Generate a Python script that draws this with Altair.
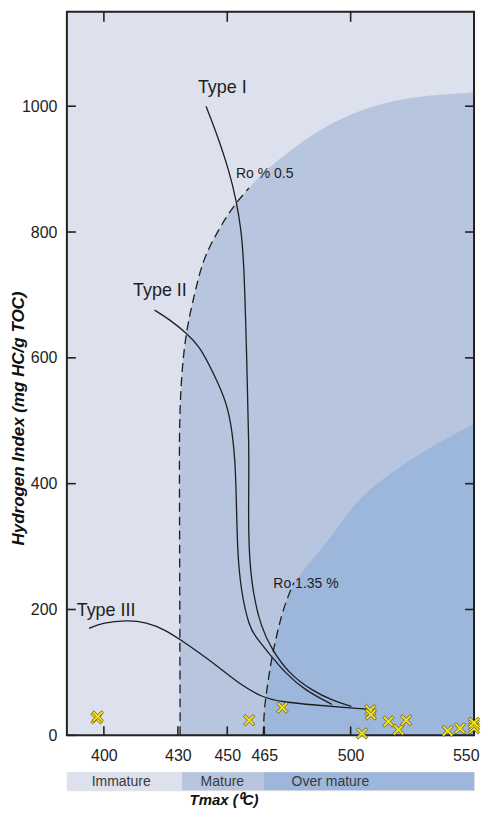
import altair as alt
import pandas as pd

FONT = "Liberation Sans"
LIGHT = "#dde1ed"
MATURE = "#b7c5df"
OVER = "#9cb7db"
INK = "#1e1e1e"

# ---------------- data ----------------
x_domain = [385, 550]
y_domain = [0, 1150]

x_labels = [400, 430, 450, 465, 500, 550]
bottom_ticks = [400, 430, 450, 465, 500]
top_ticks = [400, 450, 500]
y_labels = [0, 200, 400, 600, 800, 1000]
right_ticks = [200, 400, 600, 800, 1000]

# Ro 0.5 % boundary (dashed part = first points, then boundary of the mature field)
ro05_x = [430.9, 430.6, 430.6, 431.3, 433.3, 436.7, 440.0, 444.7, 449.4, 454.1, 458.8, 464.0, 470.1, 483.0, 497.2, 511.0, 524.2, 537.0, 550.0]
ro05_y = [0, 436, 489, 569, 643, 701, 754, 791, 823, 849, 870, 892, 913, 952, 984, 1003, 1014, 1019, 1022]
ro05_dashed_n = 11

# Ro 1.35 % boundary
ro135_x = [464.6, 464.9, 466.2, 468.0, 471.4, 473.9, 477.0, 481.7, 491.1, 497.9, 503.9, 517.4, 532.2, 550.0]
ro135_y = [0, 40, 77, 124, 183, 214, 243, 267, 310, 347, 379, 421, 458, 495]
ro135_dashed_n = 7

type1_x = [441.4, 445.4, 450.8, 453.7, 455.5, 456.8, 457.9, 458.9, 458.6, 458.7, 460.2, 463.6, 468.3, 475.0, 484.4, 492.3, 500.3]
type1_y = [1000, 960, 897, 849, 807, 754, 595, 452, 373, 294, 230, 172, 135, 98, 71, 56, 46]

type2_x = [420.5, 426.6, 433.3, 438.7, 444.0, 450.1, 452.1, 453.2, 453.7, 454.1, 455.5, 458.9, 461.6, 466.9, 473.7, 481.7, 492.5]
type2_y = [676, 661, 640, 619, 579, 527, 479, 437, 373, 294, 230, 172, 156, 130, 98, 71, 49]

type3_x = [394.0, 399.6, 409.1, 417.2, 425.2, 431.3, 437.3, 446.7, 454.8, 464.2, 472.3, 485.8, 499.2, 508.0]
type3_y = [170, 179, 183, 180, 167, 151, 135, 108, 82, 60, 53, 48, 44, 41]

samples_x = [397.0, 397.5, 458.9, 472.3, 508.0, 508.2, 504.6, 515.3, 519.4, 522.5, 539.3, 544.3, 550.0, 550.0, 550.0]
samples_y = [27, 30, 24, 44, 40, 33, 3, 22, 9, 24, 7, 11, 11, 16, 20]

curve_labels = ["Type I", "Type II", "Type III"]
curve_label_x = [448.0, 422.7, 400.9]
curve_label_y = [1029, 706, 197]

ro_labels = ["Ro % 0.5", "Ro 1.35 %"]
ro_label_x = [465.2, 481.9]
ro_label_y = [892, 241]

stage_names = ["Immature", "Mature", "Over mature"]
stage_start = [385, 431.6, 464.6]
stage_end = [431.6, 464.6, 550]
stage_text_x = [407.0, 448.0, 491.8]
stage_colors = [LIGHT, MATURE, OVER]

# ---------------- layout ----------------
W, H = 408, 725

xs = alt.Scale(domain=x_domain, nice=False, zero=False)
ys = alt.Scale(domain=y_domain, nice=False, zero=False)

xaxis = alt.Axis(values=x_labels, ticks=False, domain=False, grid=False,
                 labelFont=FONT, labelFontSize=16, labelColor=INK, labelPadding=12,
                 labelFlush=4, labelFlushOffset=5, labelOverlap=False, format="d", title="")
yaxis = alt.Axis(values=y_labels, ticks=False, domain=False, grid=False,
                 labelFont=FONT, labelFontSize=16, labelColor=INK, labelPadding=10,
                 labelFlush=False, labelOverlap=False, format="d",
                 title="Hydrogen Index (mg HC/g TOC)", titleFont=FONT, titleFontSize=17,
                 titleFontStyle="italic", titleFontWeight="bold", titleColor="#111",
                 titleX=-48, titleY=407, titleBaseline="middle", titleAlign="center")

X = lambda f: alt.X(f, type="quantitative", scale=xs, axis=xaxis)
Y = lambda f: alt.Y(f, type="quantitative", scale=ys, axis=yaxis)


def curve_df(xv, yv):
    return pd.DataFrame({"x": xv, "y": yv, "o": list(range(len(xv)))})


ro05 = curve_df(ro05_x, ro05_y).assign(xr=x_domain[1])
ro135 = curve_df(ro135_x, ro135_y).assign(xr=x_domain[1])

one = pd.DataFrame({"a": [0]})

bg = alt.Chart(one).mark_rect(fill=LIGHT).encode(
    x=alt.value(0), x2=alt.value(W), y=alt.value(0), y2=alt.value(H))

mature_area = alt.Chart(ro05).mark_area(orient="horizontal", interpolate="basis", color=MATURE).encode(
    y=Y("y"), x=X("x"), x2="xr:Q")
over_area = alt.Chart(ro135).mark_area(orient="horizontal", interpolate="basis", color=OVER).encode(
    y=Y("y"), x=X("x"), x2="xr:Q")


def line_layer(df, dashed=False):
    kw = dict(color=INK, strokeWidth=1.3, interpolate="basis")
    if dashed:
        kw["strokeDash"] = [9, 5]
    return alt.Chart(df).mark_line(**kw).encode(x=X("x"), y=Y("y"), order="o:Q")


ro05_line = line_layer(ro05.iloc[:ro05_dashed_n], dashed=True)
ro135_line = line_layer(ro135.iloc[:ro135_dashed_n], dashed=True)
t1 = line_layer(curve_df(type1_x, type1_y))
t2 = line_layer(curve_df(type2_x, type2_y))
t3 = line_layer(curve_df(type3_x, type3_y))

frame = alt.Chart(one).mark_rect(fillOpacity=0, stroke="#222", strokeWidth=2).encode(
    x=alt.value(0), x2=alt.value(W), y=alt.value(0), y2=alt.value(H))

tick_kw = dict(color="#222", strokeWidth=1.6)
bt = alt.Chart(pd.DataFrame({"v": bottom_ticks})).mark_rule(**tick_kw).encode(
    x=X("v"), y=alt.value(H), y2=alt.value(H - 9))
tt = alt.Chart(pd.DataFrame({"v": top_ticks})).mark_rule(**tick_kw).encode(
    x=X("v"), y=alt.value(0), y2=alt.value(10))
lt = alt.Chart(pd.DataFrame({"v": y_labels})).mark_rule(**tick_kw).encode(
    y=Y("v"), x=alt.value(0), x2=alt.value(9))
rt = alt.Chart(pd.DataFrame({"v": right_ticks})).mark_rule(**tick_kw).encode(
    y=Y("v"), x=alt.value(W), x2=alt.value(W - 9))

type_text = alt.Chart(pd.DataFrame({"x": curve_label_x, "y": curve_label_y, "t": curve_labels})).mark_text(
    font=FONT, fontSize=18, color=INK, align="center", baseline="middle").encode(
    x=X("x"), y=Y("y"), text="t:N")
ro_text = alt.Chart(pd.DataFrame({"x": ro_label_x, "y": ro_label_y, "t": ro_labels})).mark_text(
    font=FONT, fontSize=14, color=INK, align="center", baseline="middle").encode(
    x=X("x"), y=Y("y"), text="t:N")

xshape = "M-1,-0.68L-0.68,-1L0,-0.32L0.68,-1L1,-0.68L0.32,0L1,0.68L0.68,1L0,0.32L-0.68,1L-1,0.68L-0.32,0Z"
pts = alt.Chart(pd.DataFrame({"x": samples_x, "y": samples_y})).mark_point(
    shape=xshape, filled=True, fill="#f3e21a", stroke="#5a5530", strokeWidth=0.8,
    size=130, opacity=1).encode(x=X("x"), y=Y("y"))

main = alt.layer(bg, mature_area, over_area, ro05_line, ro135_line, t1, t2, t3,
                 type_text, ro_text, frame, bt, tt, lt, rt, pts).properties(width=W, height=H)

# ---------------- maturity bar ----------------
stage_df = pd.DataFrame({"s": stage_start, "e": stage_end, "n": stage_names, "c": stage_text_x})
bar_axis = alt.Axis(labels=False, ticks=False, domain=False, grid=False,
                    title="Tmax (\u2070C)", titleFont=FONT, titleFontSize=15,
                    titleFontStyle="italic", titleFontWeight="bold", titleColor="#111",
                    titleX=157, titleY=9, titleBaseline="middle", titleAlign="center")
BH = 18
bars = alt.Chart(stage_df).mark_rect().encode(
    x=alt.X("s:Q", scale=xs, axis=bar_axis), x2="e:Q",
    y=alt.value(0), y2=alt.value(BH),
    color=alt.Color("n:N", scale=alt.Scale(domain=stage_names, range=stage_colors), legend=None))
bar_text = alt.Chart(stage_df).mark_text(font=FONT, fontSize=14, color="#3a3a3a",
                                         align="center", baseline="middle").encode(
    x=alt.X("c:Q", scale=xs, axis=bar_axis), y=alt.value(BH / 2 + 1), text="n:N")
stage_bar = alt.layer(bars, bar_text).properties(width=W, height=BH)

chart = alt.vconcat(main, stage_bar, spacing=7).properties(
    padding={"left": 1, "top": 1, "right": 0, "bottom": 0}
).configure_view(strokeWidth=0).configure(background="white")

chart.save("out.html", embed_options={"renderer": "svg", "actions": False})
